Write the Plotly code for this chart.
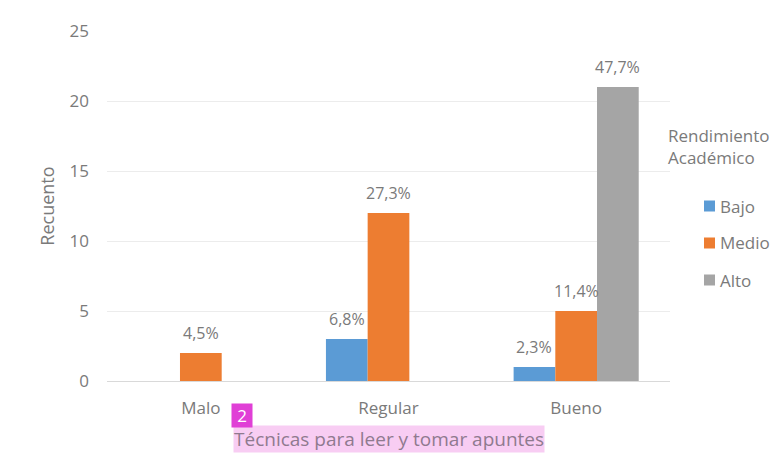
import plotly.graph_objects as go

categories = ["Malo", "Regular", "Bueno"]
series_names = ["Bajo", "Medio", "Alto"]
bajo = [0, 3, 1]
medio = [2, 12, 5]
alto = [0, 0, 21]
bajo_lbl = ["", "6,8%", "2,3%"]
medio_lbl = ["4,5%", "27,3%", "11,4%"]
alto_lbl = ["", "", "47,7%"]
colors = ["#5B9BD5", "#ED7D31", "#A5A5A5"]
y_ticks = [0, 5, 10, 15, 20, 25]

FONT = "Open Sans"
GREY = "#7a7a7a"

# page offset (body margin) and plot area in screen pixels
OFF = 8
L, R, T, B = 107 - OFF, 670 - OFF, 31 - OFF, 381 - OFF
W, H = R - L, B - T


def px_x(x):
    return (x - OFF - L) / W


def px_y(y):
    return (B - (y - OFF)) / H


fig = go.Figure()
values = [bajo, medio, alto]
labels = [bajo_lbl, medio_lbl, alto_lbl]
for j, (name, vals, col) in enumerate(zip(series_names, values, colors)):
    fig.add_trace(go.Bar(
        x=categories, y=vals, name=name, marker_color=col,
        marker_line_width=0, showlegend=False,
    ))

# percentage labels above the bars
bw = (1 - 1/3) / 3
for j, (vals, lbls) in enumerate(zip(values, labels)):
    for i, (v, t) in enumerate(zip(vals, lbls)):
        if t:
            fig.add_annotation(
                x=i + (j - 1) * bw, y=v, xref="x", yref="y",
                text=t, showarrow=False, xanchor="center", yanchor="bottom", yshift=7,
                font=dict(family=FONT, size=16, color=GREY),
            )

# x-axis title with highlight
fig.add_annotation(
    x=px_x(388.5), y=px_y(439), xref="paper", yref="paper",
    text="Técnicas para leer y tomar apuntes",
    showarrow=False, xanchor="center", yanchor="middle",
    font=dict(family=FONT, size=19, color="#8f7a8f"),
    bgcolor="#f8cdf3", borderpad=0,
)
fig.add_annotation(
    x=px_x(241.5), y=px_y(415), xref="paper", yref="paper", text="2",
    showarrow=False, xanchor="center", yanchor="middle",
    font=dict(family=FONT, size=17, color="white"),
    bgcolor="#e03fd6", borderpad=1, width=18, height=21,
)
# legend title
fig.add_annotation(
    x=px_x(666), y=px_y(122), xref="paper", yref="paper",
    text="Rendimiento<br>Académico", showarrow=False, align="left",
    xanchor="left", yanchor="top",
    font=dict(family=FONT, size=17, color=GREY),
)
# custom legend
legend_y = [206, 243, 280]
for name, col, ly in zip(series_names, colors, legend_y):
    fig.add_shape(
        type="rect", xref="paper", yref="paper",
        x0=px_x(704), x1=px_x(715), y0=px_y(ly - 5.5), y1=px_y(ly + 5.5),
        fillcolor=col, line_width=0,
    )
    fig.add_annotation(
        x=px_x(718), y=px_y(ly), xref="paper", yref="paper", text=name,
        showarrow=False, xanchor="left", yanchor="middle",
        font=dict(family=FONT, size=17, color=GREY),
    )

fig.update_layout(
    width=778, height=472,
    margin=dict(l=L, r=778 - R, t=T, b=472 - B),
    paper_bgcolor="white", plot_bgcolor="white",
    barmode="group", bargap=1/3, bargroupgap=0,
    font=dict(family=FONT, color=GREY, size=17),
    showlegend=False,
    xaxis=dict(
        showgrid=False, showline=True, linecolor="#d9d9d9", linewidth=1,
        tickfont=dict(family=FONT, size=17, color=GREY),
        ticklabelstandoff=12, automargin=False,
    ),
    yaxis=dict(
        range=[0, 25], tickvals=y_ticks, showgrid=True, gridcolor="#ececec",
        zeroline=False, showline=False,
        tickfont=dict(family=FONT, size=17, color=GREY),
        ticklabelstandoff=17, automargin=False,
        title=dict(text="Recuento", font=dict(family=FONT, size=18, color=GREY), standoff=10),
    ),
)

fig.write_html("out.html")
